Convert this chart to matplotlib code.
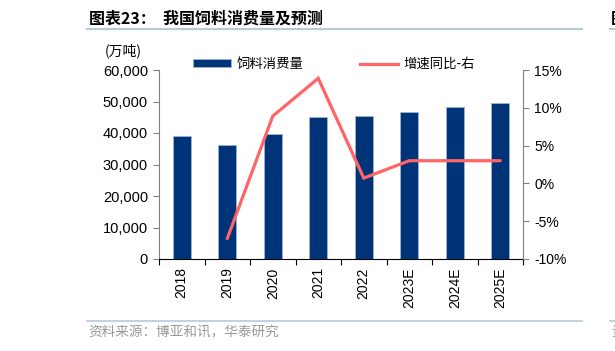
import matplotlib
matplotlib.use('Agg')
import matplotlib.pyplot as plt
from matplotlib.lines import Line2D
from matplotlib.ticker import FuncFormatter, MultipleLocator

plt.rcParams['font.family'] = ['Liberation Sans', 'Noto Sans CJK SC', 'DejaVu Sans']
cjk = ['Noto Sans CJK SC', 'DejaVu Sans']

# 数据
years = ['2018', '2019', '2020', '2021', '2022', '2023E', '2024E', '2025E']
consumption = [39200, 36300, 39600, 45150, 45400, 46750, 48150, 49600]   # 万吨
growth_years = years[1:]
growth = [-7.3, 8.9, 13.9, 0.7, 3.0, 3.0, 3.0]                           # %

bar_color = '#003478'
line_color = '#FF6466'

fig = plt.figure(figsize=(6.15, 3.51), dpi=100)
W, H = 615, 351
ax = fig.add_axes([159 / W, 1 - 259 / H, 364 / W, 189 / H])
ax2 = ax.twinx()

x = list(range(len(years)))
ax.bar(x, consumption, width=0.4, color=bar_color, edgecolor='#9fb3d1',
       linewidth=0.6, label='饲料消费量', zorder=2)
ax2.plot(x[1:], growth, color=line_color, lw=2.3, solid_capstyle='round',
         solid_joinstyle='miter', zorder=3)

ax.set_xlim(-0.5, len(years) - 0.5)
ax.set_ylim(0, 60000)
ax.yaxis.set_major_locator(MultipleLocator(10000))
ax.yaxis.set_major_formatter(FuncFormatter(lambda v, p: f'{int(v):,}'))
ax2.set_ylim(-10, 15)
ax2.yaxis.set_major_locator(MultipleLocator(5))
ax2.yaxis.set_major_formatter(FuncFormatter(lambda v, p: f'{int(v)}%'))

# x 轴刻度线放在类别之间
ax.set_xticks([i - 0.5 for i in range(len(years) + 1)])
ax.set_xticklabels([])
ax.set_xticks(x, minor=True)
ax.set_xticklabels(years, minor=True, rotation=90, fontsize=10)
ax.tick_params(axis='x', which='minor', length=0, pad=6)
ax.tick_params(axis='x', which='major', length=4, direction='out', width=0.8)
ax.tick_params(axis='y', length=4, direction='out', labelsize=10.5, pad=4, color='#808080', width=0.8)
ax2.tick_params(axis='y', length=4, direction='out', labelsize=10, pad=4, color='#808080', width=0.8)

for a in (ax, ax2):
    a.spines['top'].set_visible(False)
    a.spines['left'].set_color('#808080')
    a.spines['right'].set_color('#808080')
    a.spines['bottom'].set_color('#000000')
ax.spines['right'].set_visible(False)
ax2.spines['left'].set_visible(False)
ax2.spines['bottom'].set_visible(False)

handles = [plt.Rectangle((0, 0), 1, 1, facecolor=bar_color, edgecolor='#9fb3d1', linewidth=0.6),
           Line2D([0], [0], color=line_color, lw=2.3)]
leg = fig.legend(handles, ['饲料消费量', '增速同比-右'], loc='center left',
                 bbox_to_anchor=(193 / W, 1 - 64 / H), ncol=2, frameon=False,
                 prop={'family': cjk, 'size': 9.6}, handlelength=2.85,
                 handleheight=0.55, handletextpad=0.45, columnspacing=4.2,
                 borderaxespad=0, borderpad=0)

fig.text(105 / W, 1 - 51 / H, '(万吨)', fontsize=10, family=cjk, va='center')

# 标题与来源
fig.text(89 / W, 1 - 19 / H, '图表23：  我国饲料消费量及预测', fontsize=11.5,
         fontweight='bold', family=cjk, va='center')
fig.add_artist(Line2D([87 / W, 582 / W], [1 - 29 / H, 1 - 29 / H], color='#b8c9dd', lw=1.5))
fig.add_artist(Line2D([610 / W, 1], [1 - 29 / H, 1 - 29 / H], color='#b8c9dd', lw=1.5))
fig.text(611 / W, 1 - 19 / H, '图', fontsize=11.5, fontweight='bold', family=cjk, va='center')
fig.add_artist(Line2D([87 / W, 582 / W], [1 - 321 / H, 1 - 321 / H], color='#b8c9dd', lw=1.2))
fig.add_artist(Line2D([610 / W, 1], [1 - 321 / H, 1 - 321 / H], color='#b8c9dd', lw=1.2))
fig.text(88 / W, 1 - 332 / H, '资料来源：博亚和讯，华泰研究', fontsize=9.8,
         color='#999999', family=cjk, va='center')
fig.text(611 / W, 1 - 332 / H, '资', fontsize=9.8, color='#999999', family=cjk, va='center')

fig.savefig('out.png', dpi=100)
